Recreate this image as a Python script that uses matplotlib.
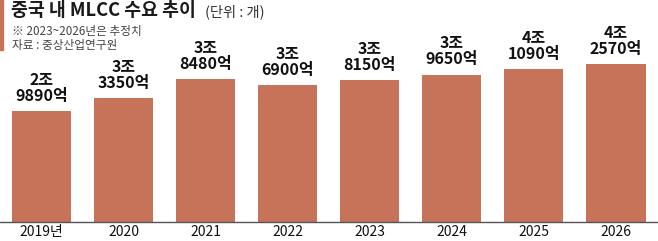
import matplotlib
matplotlib.use("Agg")
import matplotlib.pyplot as plt
from matplotlib.patches import Rectangle

plt.rcParams['font.family'] = ['Noto Sans CJK KR', 'DejaVu Sans']

# demand in 조 (trillion units)
years = ["2019년", "2020", "2021", "2022", "2023", "2024", "2025", "2026"]
demand = [2.989, 3.335, 3.848, 3.690, 3.815, 3.965, 4.109, 4.257]
value_labels = ["2조\n9890억", "3조\n3350억", "3조\n8480억", "3조\n6900억",
                "3조\n8150억", "3조\n9650억", "4조\n1090억", "4조\n2570억"]

BAR = "#c6735a"

fig = plt.figure(figsize=(6.58, 2.41), dpi=100)
ax = fig.add_axes([0, 19 / 241, 1, 222 / 241])

x = list(range(len(years)))
ax.bar(x, demand, width=0.72, color=BAR)
ax.set_xlim(-0.506, 7.512)
ax.set_ylim(0, 5.98)

for xi, v, lab in zip(x, demand, value_labels):
    ax.text(xi, v + 0.2, lab, ha="center", va="bottom", fontsize=11.5,
            fontweight="semibold", linespacing=1.0, color="#111111")

for s in ["top", "right", "left"]:
    ax.spines[s].set_visible(False)
ax.spines["bottom"].set_color("#555555")
ax.spines["bottom"].set_linewidth(1.0)
ax.set_yticks([])
ax.set_xticks(x)
ax.set_xticklabels(years, fontsize=10, color="#111111")
ax.tick_params(axis="x", length=0, pad=2)

# title block
fig.patches.append(Rectangle((0, 1 - 50 / 241), 3 / 658, 50 / 241,
                             transform=fig.transFigure, color=BAR))
fig.text(11 / 658, 1 - 11 / 241, "중국 내 MLCC 수요 추이", fontsize=13.2,
         fontweight="bold", va="center", ha="left", color="#1a1a1a")
fig.text(205 / 658, 1 - 12 / 241, "(단위 : 개)", fontsize=10.3,
         va="center", ha="left", color="#333333")
fig.text(12 / 658, 1 - 31 / 241, "※ 2023~2026년은 추정치", fontsize=8.4,
         va="center", ha="left", color="#444444")
fig.text(12 / 658, 1 - 45 / 241, "자료 : 중상산업연구원", fontsize=8.4,
         va="center", ha="left", color="#444444")

fig.savefig("out.png", dpi=100)
